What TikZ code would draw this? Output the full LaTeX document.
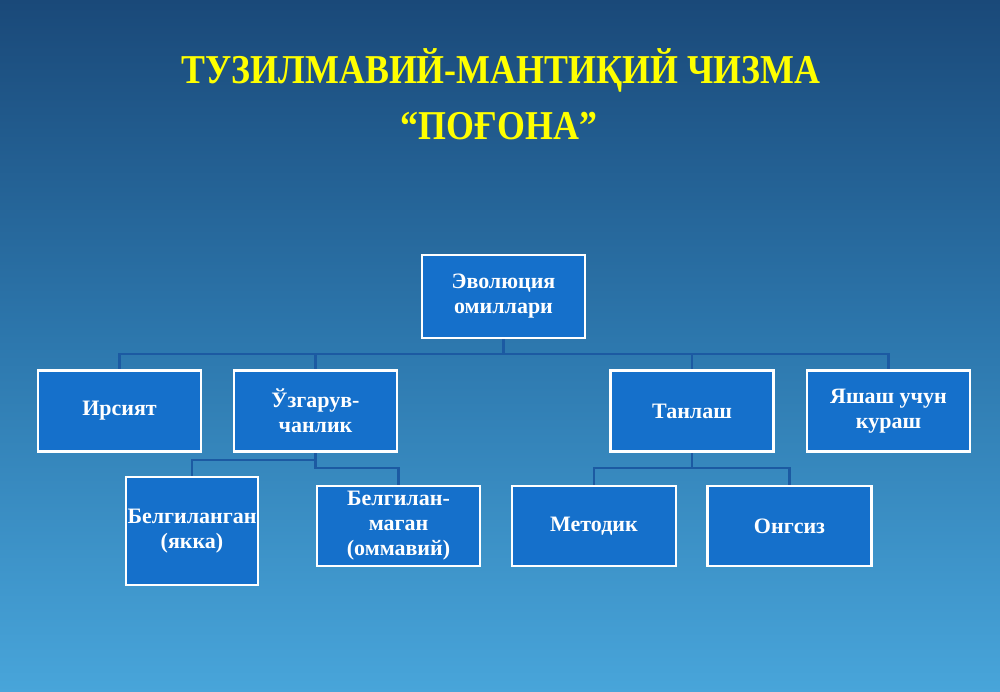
\documentclass[tikz,border=0pt]{standalone}
\usepackage{fontspec}
\setmainfont{Liberation Serif}
\usetikzlibrary{calc}
\definecolor{bgtop}{HTML}{1A4979}
\definecolor{bgmid}{HTML}{2D78AE}
\definecolor{bgbot}{HTML}{48A5DA}
\definecolor{boxfill}{HTML}{1570CB}
\definecolor{connc}{HTML}{1C5AA2}
\definecolor{titlec}{HTML}{FFFF00}
\tikzset{
  box/.style={draw=white, line width=2.6pt, fill=boxfill, text=white,
    font=\bfseries\fontsize{22}{25}\selectfont, align=center,
    inner sep=0pt, minimum width=163pt, minimum height=81pt},
  conn/.style={draw=connc, line width=2.4pt},
  titletext/.style={text=titlec, font=\bfseries\fontsize{41}{48}\selectfont, inner sep=0pt}
}
\begin{document}
\begin{tikzpicture}[x=1pt,y=-1pt]
\useasboundingbox (0,0) rectangle (1000,692);
\shade[top color=bgtop, bottom color=bgbot, middle color=bgmid] (0,0) rectangle (1000,692);
% title
\node[titletext] (t1) at (501,70) {\scalebox{0.875}[1]{ТУЗИЛМАВИЙ-МАНТИҚИЙ ЧИЗМА}};
\node[titletext] (t2) at (499,126) {\scalebox{0.875}[1]{“ПОҒОНА”}};
% connectors first
\coordinate (rootb) at (503.5,338);
\coordinate (uzgb) at (315.5,452);
\coordinate (tanb) at (692,452);
\draw[conn] (rootb) -- ++(0,16) -| (119.5,370);
\draw[conn] (rootb) -- ++(0,16) -| (315.5,370);
\draw[conn] (rootb) -- ++(0,16) -| (692,370);
\draw[conn] (rootb) -- ++(0,16) -| (888.5,370);
\draw[conn] (uzgb) -- ++(0,8) -| (192,477);
\draw[conn] (uzgb) -- ++(0,16) -| (398.5,486);
\draw[conn] (tanb) -- ++(0,16) -| (594,486);
\draw[conn] (tanb) -- ++(0,16) -| (789.5,486);
% boxes
\node[box, minimum height=83pt] (root) at (503.5,296.5) {Эволюция\\омиллари};
\node[box] (irs) at (119.5,411) {Ирсият};
\node[box] (uzg) at (315.5,411) {Ўзгарув-\\чанлик};
\node[box] (tan) at (692,411) {Танлаш};
\node[box] (yash) at (888.5,411) {Яшаш учун\\кураш};
\node[box, minimum width=132pt, minimum height=108pt] (bel1) at (192,531) {Белгиланган\\(якка)};
\node[box, minimum height=80pt] (bel2) at (398.5,526) {Белгилан-\\маган\\(оммавий)};
\node[box, minimum width=164pt, minimum height=80pt] (met) at (594,526) {Методик};
\node[box, minimum width=164pt, minimum height=80pt] (ong) at (789.5,526) {Онгсиз};
\end{tikzpicture}
\end{document}
